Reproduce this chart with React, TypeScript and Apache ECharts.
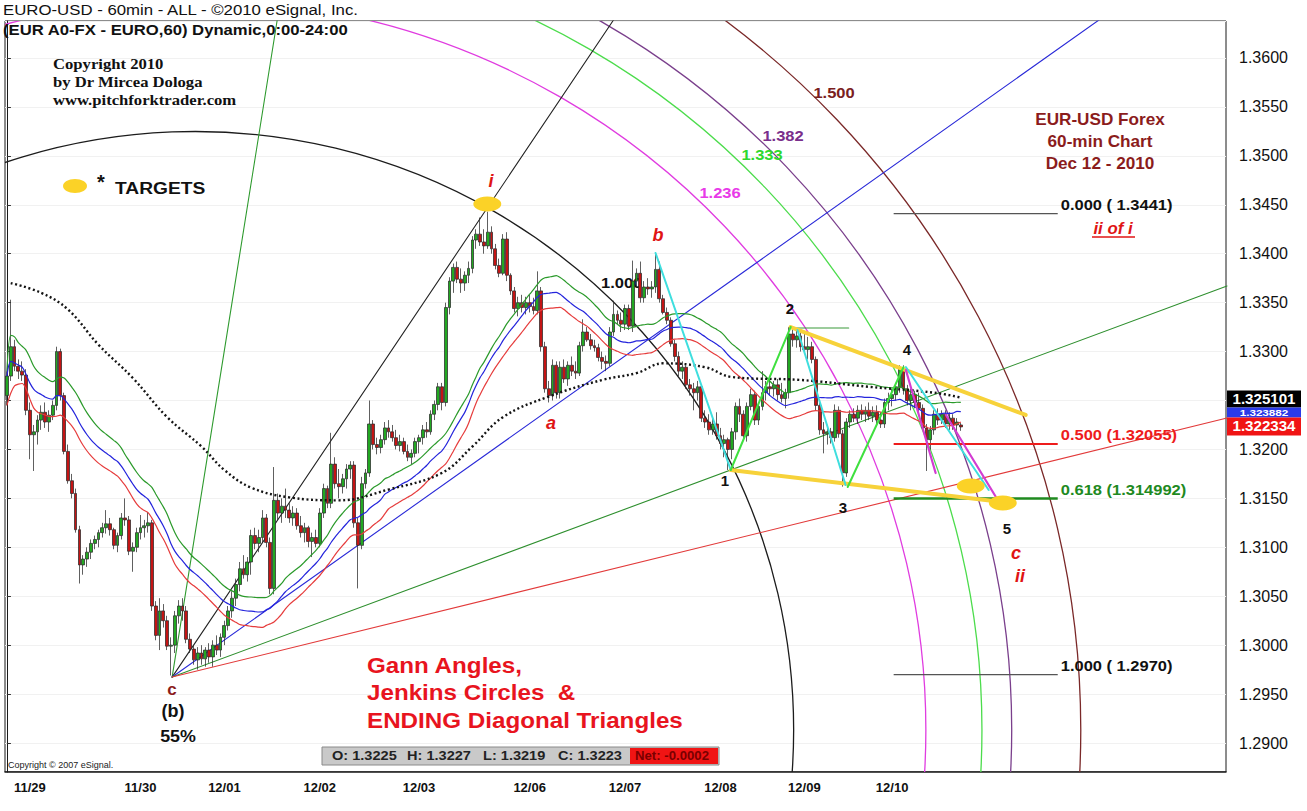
import React, { useEffect, useRef } from "react";
import * as echarts from "echarts";

// ---------------- DATA ----------------
const BAR_SLOTS = 320; // hourly slots on the time axis (incl. empty future space)

// hourly candles: [open, high, low, close] in units of 0.0001 above 1.0000 (3271 -> 1.3271)
const candlesOHLC: number[][] = [
  [3255,3280,3245,3275],[3275,3353,3270,3305],[3305,3312,3280,3285],[3285,3292,3272,3280],[3280,3290,3270,3276],
  [3276,3282,3235,3240],[3240,3248,3190,3215],[3215,3225,3178,3218],[3218,3235,3205,3230],[3230,3245,3220,3238],
  [3238,3248,3222,3228],[3228,3240,3218,3235],[3235,3250,3230,3245],[3245,3305,3240,3300],[3300,3303,3250,3255],
  [3255,3258,3195,3198],[3198,3205,3165,3168],[3168,3175,3150,3155],[3155,3160,3115,3118],[3118,3122,3063,3082],
  [3082,3092,3072,3088],[3088,3100,3080,3095],[3095,3108,3088,3104],[3104,3112,3098,3108],[3108,3118,3100,3115],
  [3115,3125,3110,3120],[3120,3138,3114,3124],[3124,3130,3112,3118],[3118,3120,3098,3102],[3102,3115,3095,3112],
  [3112,3135,3108,3130],[3130,3150,3122,3128],[3128,3132,3092,3096],[3096,3105,3075,3100],[3100,3120,3095,3115],
  [3115,3133,3108,3120],[3120,3128,3110,3122],[3122,3136,3115,3125],[3125,3128,3035,3040],[3040,3045,3005,3010],
  [3010,3048,2995,3035],[3035,3042,3018,3025],[3025,3030,2995,2999],[2999,3008,2969,3000],[3000,3035,2992,3030],
  [3030,3046,3022,3040],[3040,3048,3025,3035],[3035,3040,3002,3006],[3006,3012,2992,2996],[2996,3000,2980,2985],
  [2985,2998,2975,2992],[2992,3000,2980,2986],[2986,2998,2978,2995],[2995,3002,2982,2988],[2988,3005,2978,3000],
  [3000,3010,2990,2995],[2995,3012,2988,3008],[3008,3025,3000,3020],[3020,3040,3015,3035],[3035,3055,3028,3048],
  [3048,3068,3040,3062],[3062,3085,3055,3078],[3078,3092,3068,3072],[3072,3090,3065,3085],[3085,3118,3072,3112],
  [3112,3120,3098,3104],[3104,3118,3095,3110],[3110,3138,3105,3130],[3130,3134,3100,3105],[3105,3110,3052,3058],
  [3058,3182,3052,3148],[3148,3155,3128,3135],[3135,3150,3125,3142],[3142,3160,3130,3138],[3138,3145,3125,3130],
  [3130,3142,3122,3135],[3135,3140,3118,3122],[3122,3132,3110,3115],[3115,3125,3105,3120],[3120,3122,3100,3106],
  [3106,3115,3090,3110],[3110,3118,3100,3104],[3104,3140,3100,3135],[3135,3165,3130,3160],[3160,3163,3140,3145],
  [3145,3217,3140,3185],[3185,3192,3160,3165],[3165,3180,3150,3162],[3162,3175,3155,3170],[3170,3185,3160,3180],
  [3180,3188,3170,3184],[3184,3188,3120,3125],[3125,3130,3058,3102],[3102,3172,3098,3165],[3165,3180,3160,3176],
  [3176,3250,3172,3226],[3226,3230,3200,3205],[3205,3212,3195,3202],[3202,3215,3196,3210],[3210,3228,3205,3222],
  [3222,3230,3212,3218],[3218,3225,3208,3212],[3212,3220,3200,3204],[3204,3215,3198,3208],[3208,3212,3195,3198],
  [3198,3205,3188,3192],[3192,3200,3185,3196],[3196,3212,3192,3208],[3208,3215,3196,3212],[3212,3225,3205,3220],
  [3220,3228,3212,3218],[3218,3240,3215,3236],[3236,3250,3230,3246],[3246,3268,3240,3264],[3264,3268,3240,3248],
  [3248,3350,3244,3345],[3345,3376,3338,3372],[3372,3390,3360,3386],[3386,3392,3370,3374],[3374,3385,3360,3370],
  [3370,3382,3362,3378],[3378,3392,3370,3385],[3385,3418,3380,3414],[3414,3425,3405,3420],[3420,3437,3408,3412],
  [3412,3425,3400,3408],[3408,3443,3405,3422],[3422,3428,3400,3405],[3405,3410,3384,3388],[3388,3395,3376,3380],
  [3380,3420,3378,3415],[3415,3422,3372,3378],[3378,3380,3358,3362],[3362,3366,3340,3344],[3344,3356,3336,3350],
  [3350,3358,3340,3345],[3345,3356,3338,3350],[3350,3358,3340,3346],[3346,3355,3338,3342],[3342,3382,3338,3362],
  [3362,3366,3300,3305],[3305,3310,3258,3262],[3262,3270,3248,3255],[3255,3292,3250,3286],[3286,3290,3252,3258],
  [3258,3290,3252,3284],[3284,3292,3268,3272],[3272,3290,3265,3286],[3286,3295,3275,3280],[3280,3290,3272,3278],
  [3278,3310,3275,3306],[3306,3333,3300,3320],[3320,3325,3310,3312],[3312,3318,3302,3306],[3306,3312,3300,3304],
  [3304,3308,3290,3294],[3294,3300,3282,3290],[3290,3296,3280,3288],[3288,3325,3285,3320],[3320,3352,3316,3338],
  [3338,3342,3328,3332],[3332,3340,3320,3328],[3328,3348,3322,3344],[3344,3348,3322,3326],[3326,3393,3320,3372],
  [3372,3385,3365,3380],[3380,3392,3350,3355],[3355,3372,3350,3366],[3366,3375,3358,3364],[3364,3372,3355,3366],
  [3366,3401,3360,3384],[3384,3392,3350,3354],[3354,3358,3338,3340],[3340,3345,3328,3332],[3332,3335,3305,3308],
  [3308,3312,3290,3295],[3295,3300,3275,3280],[3280,3290,3272,3284],[3284,3286,3262,3266],[3266,3272,3255,3262],
  [3262,3268,3240,3258],[3258,3270,3250,3264],[3264,3266,3228,3232],[3232,3240,3222,3228],[3228,3236,3215,3220],
  [3220,3232,3215,3226],[3226,3238,3210,3214],[3214,3222,3200,3206],[3206,3215,3192,3210],[3210,3212,3179,3200],
  [3200,3222,3190,3218],[3218,3248,3210,3244],[3244,3252,3228,3236],[3236,3240,3210,3214],[3214,3248,3208,3244],
  [3244,3262,3240,3256],[3256,3260,3225,3230],[3230,3248,3225,3244],[3244,3280,3240,3258],[3258,3270,3250,3264],
  [3264,3272,3255,3262],[3262,3270,3254,3266],[3266,3272,3250,3256],[3256,3268,3248,3252],[3252,3262,3242,3258],
  [3258,3325,3252,3318],[3318,3324,3305,3312],[3312,3322,3304,3316],[3316,3320,3300,3305],[3305,3318,3298,3302],
  [3302,3315,3292,3305],[3305,3310,3288,3292],[3292,3295,3240,3245],[3245,3248,3215,3220],[3220,3228,3196,3216],
  [3216,3225,3205,3218],[3218,3222,3206,3212],[3212,3246,3208,3240],[3240,3244,3212,3216],[3216,3220,3162,3176],
  [3176,3232,3172,3228],[3228,3240,3222,3236],[3236,3242,3228,3232],[3232,3245,3226,3240],[3240,3246,3230,3236],
  [3236,3244,3228,3240],[3240,3248,3230,3234],[3234,3244,3228,3238],[3238,3245,3225,3230],[3230,3238,3222,3226],
  [3226,3252,3222,3248],[3248,3258,3240,3252],[3252,3262,3244,3256],[3256,3268,3250,3264],[3264,3286,3258,3282],
  [3282,3286,3256,3262],[3262,3266,3245,3250],[3250,3262,3240,3256],[3256,3260,3242,3248],[3248,3258,3238,3242],
  [3242,3246,3220,3222],[3222,3226,3178,3210],[3210,3224,3200,3220],[3220,3240,3215,3236],[3236,3242,3225,3230],
  [3230,3240,3226,3236],[3236,3240,3222,3226],[3226,3238,3220,3232],[3232,3236,3220,3225],[3225,3232,3218,3228],
  [3225,3227,3219,3223],
];

const dateLabels = ["11/29", "11/30", "12/01", "12/02", "12/03", "12/06", "12/07", "12/08", "12/09", "12/10"];
const dateLabelBars = [6, 35, 57, 82, 108, 137, 162, 187, 209, 232];

const MA_PERIOD = 30;

// long dotted moving average: [bar, price]
const dottedMA: number[][] = [
  [1, 1.3370], [9, 1.3360], [16, 1.3343], [24, 1.3307], [33, 1.3273], [42, 1.3233], [51, 1.3203], [57, 1.3179],
  [64, 1.3161], [74, 1.3151], [87, 1.3148], [100, 1.3159], [114, 1.3176], [122, 1.3203], [130, 1.3233],
  [142, 1.3254], [156, 1.3271], [165, 1.3278], [172, 1.3288], [183, 1.3284], [190, 1.3274], [208, 1.3271],
  [226, 1.3264], [243, 1.3258], [250, 1.3253],
];

// Gann angles from the (b) low
const gannOrigin = [43.3, 1.29674];
const gannEnds: number[][] = [
  [70.84, 1.36388], [158.98, 1.36388], [286.19, 1.36388], [319.76, 1.3367], [319.76, 1.32321],
];

// Jenkins circles: centre [bar, price] and radii (in bars)
const circleCentre = [49.34, 1.29133];
const circleRatios = ["1.000", "1.236", "1.333", "1.382", "1.500"];
const circleRadii = [156.85, 191.5, 206.2, 214.0, 232.1];

// Fibonacci retracement
const fibHigh = 1.3441;
const fibLow = 1.2970;
const fibRatios = [0, 0.5, 0.618, 1];
const fibLabels = ["0.000 ( 1.3441)", "0.500 (1.32055)", "0.618 (1.314992)", "1.000 ( 1.2970)"];
const fibFromBar = 232.4;
const fibToBar = 275.4;

// ending diagonal drawing
const wave2Flat = [[206.2, 1.33241], [220.6, 1.33241]];
const yellowUpper = [[205.4, 1.33251], [267.0, 1.32352]];
const yellowLower = [[189.7, 1.3179], [263.1, 1.31453]];
const cyanLegs: number[][][] = [
  [[170.0, 1.34007], [189.7, 1.3179]],
  [[207.2, 1.3322], [219.8, 1.31637]],
  [[235.6, 1.32842], [257.3, 1.31585]],
];
const greenLegs: number[][][] = [
  [[189.7, 1.3179], [205.4, 1.33251]],
  [[220.35, 1.31616], [235.0, 1.32842]],
];
const magentaLegs: number[][][] = [
  [[235.6, 1.32812], [243.4, 1.31759]],
  [[246.1, 1.32352], [259.2, 1.31514]],
];
const targets: number[][] = [[125.9, 1.34508], [252.6, 1.31626], [261.0, 1.31453]];

// right-axis value flags
const axisFlags = [1.325101, 1.323882, 1.322334];
const axisFlagTexts = ["1.325101", "1.323882", "1.322334"];

// status bar of the last bar
const lastBarTexts = ["O: 1.3225", "H: 1.3227", "L: 1.3219", "C: 1.3223"];
const netText = "Net: -0.0002";

// ---------------- HELPERS ----------------
const SANS = '"Liberation Sans", Arial, Helvetica, sans-serif';
const SERIF = '"Liberation Serif", "Times New Roman", serif';
const Y_MIN = 1.28704;
const Y_MAX = 1.36378;

const toPrice = (v: number) => +(1 + v / 10000).toFixed(4);

function sma(values: number[], period: number) {
  return values.map((_, i) => {
    const from = Math.max(0, i - period + 1);
    let s = 0;
    for (let k = from; k <= i; k++) s += values[k];
    return +(s / (i - from + 1)).toFixed(5);
  });
}

function seg(pts: number[][], color: string, width: number, z = 5, type: any = "solid", cap = "round") {
  return {
    type: "line",
    xAxisIndex: 1,
    yAxisIndex: 0,
    data: pts,
    symbol: "none",
    showSymbol: false,
    silent: true,
    clip: true,
    z,
    lineStyle: { color, width, type, cap },
  };
}

function txt(x: number, y: number, text: string, font: string, fill: string, align = "left", z = 100, sx = 1) {
  return {
    type: "text",
    x,
    y,
    z,
    scaleX: sx,
    silent: true,
    style: { text, font, fill, textAlign: align, textVerticalAlign: "middle", verticalAlign: "middle" },
  };
}

function buildOption() {
  const categories = Array.from({ length: BAR_SLOTS }, (_, i) => String(i));
  const labelMap: Record<number, string> = {};
  dateLabelBars.forEach((b, k) => (labelMap[b] = dateLabels[k]));

  const candleData = candlesOHLC.map(([o, h, l, c]) => [toPrice(o), toPrice(c), toPrice(l), toPrice(h)]);
  const highs = candlesOHLC.map((c) => toPrice(c[1]));
  const lows = candlesOHLC.map((c) => toPrice(c[2]));
  const closes = candlesOHLC.map((c) => toPrice(c[3]));

  const circleColors = ["#1c1c1c", "#e03ce0", "#4cdc4c", "#7a3f8c", "#7a2828"];
  const gannColors = ["#2e9a2e", "#222222", "#2a2ad8", "#2e8f2e", "#e23a3a"];
  const fibColors = ["#555555", "#ee1c1c", "#1f8a1f", "#555555"];
  const fibWidths = [1.2, 2, 2.5, 1.2];

  const series: any[] = [];

  series.push({
    type: "custom",
    name: "circles",
    xAxisIndex: 1,
    yAxisIndex: 0,
    clip: true,
    silent: true,
    z: 1,
    data: circleRadii.map((r) => [circleCentre[0], circleCentre[1], r]),
    renderItem: (params: any, api: any) => {
      const c = api.coord([api.value(0), api.value(1)]);
      const r = api.size([api.value(2), 0])[0];
      return {
        type: "circle",
        shape: { cx: c[0], cy: c[1], r },
        style: { fill: "none", stroke: circleColors[params.dataIndex], lineWidth: 1.3 },
      };
    },
  });

  gannEnds.forEach((e, k) => series.push(seg([gannOrigin, e], gannColors[k], 1.1, 2)));

  series.push({
    type: "candlestick",
    xAxisIndex: 0,
    yAxisIndex: 0,
    data: candleData,
    barWidth: 3.3,
    z: 3,
    silent: true,
    itemStyle: {
      color: "#22a822",
      color0: "#c41414",
      borderColor: "#2b2b2b",
      borderColor0: "#2b2b2b",
      borderWidth: 0.75,
    },
  });

  const maLine = (data: number[], color: string) => ({
    type: "line",
    xAxisIndex: 0,
    yAxisIndex: 0,
    data,
    symbol: "none",
    showSymbol: false,
    silent: true,
    smooth: 0.3,
    z: 4,
    lineStyle: { color, width: 1.2 },
  });
  series.push(maLine(sma(highs, MA_PERIOD), "#2a9a2a"));
  series.push(maLine(sma(closes, MA_PERIOD), "#2424dc"));
  series.push(maLine(sma(lows, MA_PERIOD), "#e63c3c"));

  series.push({
    ...seg(dottedMA, "#141414", 2.4, 4, [2, 2.6], "butt"),
    smooth: 0.4,
  });

  fibRatios.forEach((r, k) => {
    const p = +(fibHigh - r * (fibHigh - fibLow)).toFixed(6);
    series.push(seg([[fibFromBar, p], [fibToBar, p]], fibColors[k], fibWidths[k], 5, "solid", "butt"));
  });

  series.push(seg(wave2Flat, "#3a9a3a", 1.2, 5));
  series.push(seg(yellowUpper, "#f7d23a", 4, 5));
  series.push(seg(yellowLower, "#f7d23a", 4, 5));
  cyanLegs.forEach((l) => series.push(seg(l, "#3fdede", 2, 6)));
  greenLegs.forEach((l) => series.push(seg(l, "#3fe03f", 2, 6)));
  magentaLegs.forEach((l) => series.push(seg(l, "#d23cd2", 2.2, 6)));

  series.push({
    type: "scatter",
    xAxisIndex: 1,
    yAxisIndex: 0,
    data: targets,
    symbol: "circle",
    symbolSize: [28, 15],
    silent: true,
    z: 7,
    itemStyle: { color: "#fbd227", opacity: 1 },
  });

  return {
    animation: false,
    backgroundColor: "#ffffff",
    grid: { left: 5, right: 81, top: 21, bottom: 39, show: true, borderColor: "#1a1a1a", borderWidth: 1, backgroundColor: "transparent" },
    xAxis: [
      {
        type: "category",
        data: categories,
        boundaryGap: true,
        axisLine: { show: true, lineStyle: { color: "#1a1a1a", width: 1.5 } },
        axisTick: { show: false },
        splitLine: { show: false },
        axisLabel: {
          interval: (index: number) => labelMap[index] !== undefined,
          formatter: (_v: string, index: number) => labelMap[index] || "",
          color: "#111",
          fontFamily: SANS,
          fontWeight: "bold",
          fontSize: 13,
          margin: 9,
        },
      },
      { type: "value", min: -0.5, max: BAR_SLOTS - 0.5, show: false },
    ],
    yAxis: [
      {
        type: "value",
        position: "right",
        min: Y_MIN,
        max: Y_MAX,
        splitNumber: 15,
        axisLine: { show: true, lineStyle: { color: "#1a1a1a" } },
        axisTick: { show: true, length: 4, lineStyle: { color: "#333" } },
        splitLine: { show: true, lineStyle: { color: "#f1f1f1" } },
        axisLabel: {
          showMinLabel: false,
          showMaxLabel: false,
          // the 1.3250 label sits under the last-value flag in the original
          formatter: (v: number) => (Math.abs(v - 1.325) < 1e-7 ? "" : v.toFixed(4)),
          color: "#111",
          fontFamily: SANS,
          fontSize: 16,
          margin: 13,
        },
      },
    ],
    series,
  };
}

function buildGraphics(chart: any) {
  const px = (bar: number) => chart.convertToPixel({ xAxisIndex: 1 }, bar) as number;
  const py = (p: number) => chart.convertToPixel({ yAxisIndex: 0 }, p) as number;
  const g: any[] = [];

  // header
  g.push(txt(3, 10, "EURO-USD - 60min - ALL - ©2010 eSignal, Inc.", `15px ${SANS}`, "#111", "left", 100, 1.12));
  g.push(txt(3, 30, "(EUR A0-FX - EURO,60) Dynamic,0:00-24:00", `bold 14.5px ${SANS}`, "#111", "left", 100, 1.15));

  // copyright
  g.push(txt(53, 64, "Copyright 2010", `bold 15px ${SERIF}`, "#111", "left", 100, 1.11));
  g.push(txt(53, 82, "by Dr Mircea Dologa", `bold 15px ${SERIF}`, "#111", "left", 100, 1.11));
  g.push(txt(53, 100, "www.pitchforktrader.com", `bold 15px ${SERIF}`, "#111", "left", 100, 1.11));

  // targets legend
  g.push({ type: "ellipse", shape: { cx: 75, cy: 186, rx: 12, ry: 7 }, style: { fill: "#fbd227" }, z: 100, silent: true });
  g.push(txt(97, 182, "*", `bold 20px ${SANS}`, "#111"));
  g.push(txt(115, 188, "TARGETS", `bold 17px ${SANS}`, "#111", "left", 100, 1.13));

  // chart title block
  g.push(txt(1100, 120, "EUR-USD Forex", `bold 16.5px ${SANS}`, "#8b1c1c", "center", 100, 1.04));
  g.push(txt(1100, 142, "60-min Chart", `bold 16.5px ${SANS}`, "#8b1c1c", "center", 100, 1.04));
  g.push(txt(1100, 164, "Dec 12 - 2010", `bold 16.5px ${SANS}`, "#8b1c1c", "center", 100, 1.04));

  // circle labels
  const arcLabelPos = [[0, 0], [720, 193], [762, 155], [783, 136], [834, 93]];
  const arcLabelColors = ["#111", "#e83ae8", "#2ed82e", "#7a2f8c", "#7a2020"];
  for (let k = 1; k < circleRatios.length; k++) {
    g.push(txt(arcLabelPos[k][0], arcLabelPos[k][1], circleRatios[k], `bold 15px ${SANS}`, arcLabelColors[k], "center", 100, 1.1));
  }
  g.push(txt(601, 283, "1.000", `bold 15px ${SANS}`, "#111", "left", 1, 1.1));

  // fib labels
  const fibLabelColors = ["#111", "#ee1c1c", "#1f8a1f", "#111"];
  fibRatios.forEach((r, k) => {
    const p = fibHigh - r * (fibHigh - fibLow);
    g.push(txt(px(fibToBar) + 3, py(p) - 9, fibLabels[k], `bold 15px ${SANS}`, fibLabelColors[k], "left", 100, 1.1));
  });
  g.push(txt(1113, 228, "ii of i", `italic bold 16px ${SANS}`, "#e01414", "center", 100, 1.05));
  g.push({ type: "line", shape: { x1: 1092, y1: 237, x2: 1135, y2: 237 }, style: { stroke: "#e01414", lineWidth: 1.5 }, z: 100, silent: true });

  // wave labels
  g.push(txt(491, 181, "i", `italic bold 18px ${SANS}`, "#e01414", "center"));
  g.push(txt(658, 235, "b", `italic bold 18px ${SANS}`, "#e01414", "center"));
  g.push(txt(551, 423, "a", `italic bold 18px ${SANS}`, "#e01414", "center"));
  g.push(txt(725, 480, "1", `bold 15px ${SANS}`, "#111", "center"));
  g.push(txt(790, 308, "2", `bold 15px ${SANS}`, "#111", "center"));
  g.push(txt(843, 507, "3", `bold 15px ${SANS}`, "#111", "center"));
  g.push(txt(907, 349, "4", `bold 15px ${SANS}`, "#111", "center"));
  g.push(txt(1007, 528, "5", `bold 15px ${SANS}`, "#111", "center"));
  g.push(txt(1016, 553, "c", `italic bold 18px ${SANS}`, "#e01414", "center"));
  g.push(txt(1020, 576, "ii", `italic bold 18px ${SANS}`, "#e01414", "center"));
  g.push(txt(172, 689, "c", `bold 17px ${SANS}`, "#8b1c1c", "center"));
  g.push(txt(173, 711, "(b)", `bold 18px ${SANS}`, "#111", "center"));
  g.push(txt(178, 736, "55%", `bold 17px ${SANS}`, "#111", "center", 100, 1.05));

  // headline
  g.push(txt(367, 665, "Gann Angles,", `bold 22px ${SANS}`, "#e8141e", "left", 100, 1.1));
  g.push(txt(367, 692, "Jenkins Circles  &", `bold 22px ${SANS}`, "#e8141e", "left", 100, 1.1));
  g.push(txt(367, 720, "ENDING Diagonal Triangles", `bold 22px ${SANS}`, "#e8141e", "left", 100, 1.1));

  // status bar
  g.push({ type: "rect", shape: { x: 322, y: 747, width: 397, height: 18 }, style: { fill: "#c9c9c9", stroke: "#8a8a8a", lineWidth: 1 }, z: 100, silent: true });
  const statusX = [332, 407, 483, 558];
  lastBarTexts.forEach((t, k) => g.push(txt(statusX[k], 756, t, `bold 13px ${SANS}`, "#222", "left", 101, 1.12)));
  g.push({ type: "rect", shape: { x: 630, y: 748, width: 88, height: 16 }, style: { fill: "#f01414" }, z: 101, silent: true });
  g.push(txt(672, 756, netText, `bold 12px ${SANS}`, "#7a0000", "center", 102, 1.1));
  g.push(txt(8, 765, "Copyright © 2007 eSignal.", `9px ${SANS}`, "#222"));

  // axis flags (black / blue / red), blue squeezed between the other two
  const yB = py(axisFlags[0]);
  const yR = py(axisFlags[2]);
  g.push({ type: "rect", shape: { x: 1227, y: yB - 9, width: 74, height: 17 }, style: { fill: "#000000" }, z: 110, silent: true });
  g.push(txt(1264, yB - 0.5, axisFlagTexts[0], `bold 14px ${SANS}`, "#ffffff", "center", 120, 1.08));
  g.push({ type: "rect", shape: { x: 1227, y: yB + 8, width: 74, height: 10 }, style: { fill: "#2a3ae8" }, z: 111, silent: true });
  g.push(txt(1264, (yB + 8 + yR - 9) / 2 + 0.5, axisFlagTexts[1], `bold 9px ${SANS}`, "#ffffff", "center", 121, 1.3));
  g.push({ type: "rect", shape: { x: 1227, y: yR - 9, width: 74, height: 18 }, style: { fill: "#f01414" }, z: 112, silent: true });
  g.push(txt(1264, yR, axisFlagTexts[2], `bold 14px ${SANS}`, "#ffffff", "center", 122, 1.08));

  return g;
}

export default function App() {
  const ref = useRef<HTMLDivElement>(null);
  useEffect(() => {
    const el = ref.current;
    if (!el) return;
    const chart = echarts.init(el, undefined, { renderer: "svg" });
    chart.setOption(buildOption() as any);
    chart.setOption({ graphic: buildGraphics(chart) } as any);
    return () => chart.dispose();
  }, []);
  return (
    <div
      ref={ref}
      style={{ position: "absolute", left: 0, top: 0, width: 1307, height: 811, background: "#ffffff" }}
    />
  );
}
